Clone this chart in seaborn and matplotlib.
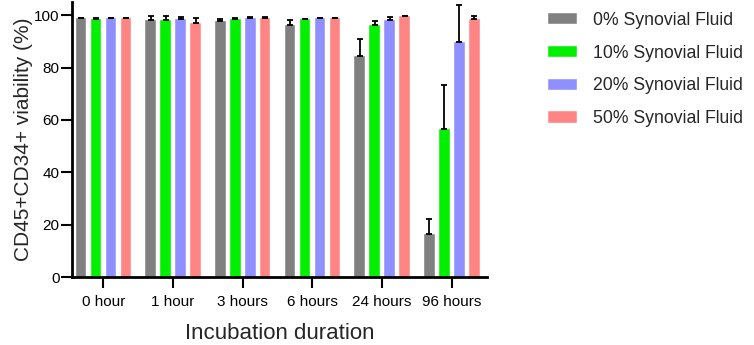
import numpy as np
import pandas as pd
import matplotlib
matplotlib.use("Agg")
import matplotlib.pyplot as plt
import seaborn as sns

categories = ["0 hour", "1 hour", "3 hours", "6 hours", "24 hours", "96 hours"]
groups = ["0% Synovial Fluid", "10% Synovial Fluid", "20% Synovial Fluid", "50% Synovial Fluid"]
mean_0 = [98.8, 98.1, 97.6, 96.2, 84.3, 16.5]
sd_0 = [0.3, 1.4, 0.9, 2.0, 6.6, 5.5]
mean_10 = [98.7, 98.1, 98.5, 98.5, 96.2, 56.4]
sd_10 = [0.2, 1.6, 0.3, 0.2, 1.6, 16.9]
mean_20 = [98.8, 98.5, 99.0, 98.8, 98.0, 89.7]
sd_20 = [0.2, 0.8, 0.4, 0.2, 1.3, 14.0]
mean_50 = [98.8, 96.9, 99.1, 99.0, 99.5, 98.7]
sd_50 = [0.1, 2.2, 0.2, 0.1, 0.2, 0.9]
colors = ["#808080", "#00f000", "#8f8fff", "#ff8585"]

means = [mean_0, mean_10, mean_20, mean_50]
sds = [sd_0, sd_10, sd_20, sd_50]
rows = []
for g, m in zip(groups, means):
    for c, v in zip(categories, m):
        rows.append({"Incubation": c, "Group": g, "Viability": v})
df = pd.DataFrame(rows)

sns.set_theme(style="ticks")
plt.rcParams["font.family"] = ["Liberation Sans", "DejaVu Sans"]

fig = plt.figure(figsize=(7.54, 3.45), dpi=100)
ax = fig.add_axes([0.0955, 0.197, 0.55, 0.797])

sns.barplot(data=df, x="Incubation", y="Viability", hue="Group",
            order=categories, hue_order=groups, palette=colors,
            width=0.86, gap=0.3, errorbar=None, saturation=1,
            ax=ax, legend=True, edgecolor="white", linewidth=0.3)

for cont, sd in zip(ax.containers, sds):
    xs = [b.get_x() + b.get_width() / 2 for b in cont]
    hs = [b.get_height() for b in cont]
    ax.errorbar(xs, hs, yerr=[np.zeros(len(sd)), sd], fmt="none",
                ecolor="black", elinewidth=1.3, capsize=2.5, capthick=1.3)

ax.set_xlim(-0.45, 5.5)
ax.set_ylim(0, 105)
ax.set_yticks([0, 20, 40, 60, 80, 100])
ax.set_xlabel("Incubation duration", fontsize=16, labelpad=10)
ax.set_ylabel("CD45+CD34+ viability (%)", fontsize=15, labelpad=1)
ax.tick_params(axis="both", labelsize=11, length=8, width=1.5, pad=1, colors="black")
ax.tick_params(axis="x", pad=5)
for s in ["left", "bottom"]:
    ax.spines[s].set_linewidth(2)
    ax.spines[s].set_color("black")
sns.despine(ax=ax)

handles, labels = ax.get_legend_handles_labels()
ax.legend(handles, labels, loc="upper left", bbox_to_anchor=(0.727, 0.966),
          bbox_transform=fig.transFigure, frameon=False, fontsize=12.7,
          handlelength=1.65, handleheight=0.63, handletextpad=0.9,
          labelspacing=0.9, borderpad=0, borderaxespad=0)

fig.savefig("out.png", dpi=100)
